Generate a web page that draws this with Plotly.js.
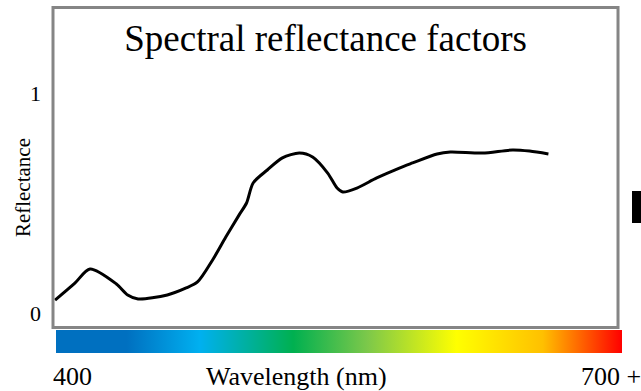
<!DOCTYPE html>
<html>
<head>
<meta charset="utf-8">
<script src="https://cdn.plot.ly/plotly-3.0.1.min.js"></script>
<style>html,body{margin:0;padding:0;background:#fff;}#chart{width:641px;height:391px;}</style>
</head>
<body>
<div id="chart"></div>
<script>
// Data
const wavelengths = [399.5, 410, 418, 432, 438, 443.5, 459, 469, 475, 483, 490, 497, 501, 504.5, 512, 520, 529, 536, 544, 549, 552, 559.5, 570, 582, 589, 602, 609, 626, 642, 651, 661];
const reflectance = [0.059, 0.136, 0.200, 0.132, 0.082, 0.064, 0.082, 0.114, 0.141, 0.241, 0.345, 0.445, 0.500, 0.591, 0.650, 0.705, 0.727, 0.709, 0.636, 0.568, 0.550, 0.568, 0.614, 0.659, 0.682, 0.723, 0.732, 0.727, 0.741, 0.736, 0.723];
const yTickVals = [0, 1];
const yTickText = ['0', '1'];
const bandStart = 400, bandEnd = 700;
const specPositions = [0, 0.125, 0.254, 0.419, 0.55, 0.708, 0.86, 1];
const specColors = ['#0070C0', '#0070C0', '#00B0F0', '#00B050', '#7CC84A', '#FFFF00', '#FFC000', '#FF0000'];

const serif = 'Liberation Serif, Times New Roman, serif';
const spectrumScale = specPositions.map((p, i) => [p, specColors[i]]);

const traces = [
  {
    x: [bandStart, bandEnd, bandEnd, bandStart, bandStart],
    y: [0, 0, 1, 1, 0],
    xaxis: 'x', yaxis: 'y2',
    mode: 'lines', line: {width: 0},
    fill: 'toself',
    fillgradient: {type: 'horizontal', colorscale: spectrumScale},
    hoverinfo: 'skip', showlegend: false
  },
  {
    x: wavelengths, y: reflectance,
    xaxis: 'x', yaxis: 'y',
    mode: 'lines',
    line: {color: '#000', width: 3, shape: 'spline', smoothing: 0.8},
    showlegend: false
  }
];

const layout = {
  width: 641, height: 391,
  margin: {l: 53, r: 19, t: 8, b: 38, pad: 0},
  paper_bgcolor: '#fff', plot_bgcolor: 'rgba(0,0,0,0)',
  font: {family: serif, color: '#000', size: 18},
  showlegend: false,
  title: {
    text: 'Spectral reflectance factors',
    font: {family: serif, size: 37, color: '#000'},
    x: 0.508, xanchor: 'center', xref: 'container',
    y: 0.902, yanchor: 'middle', yref: 'container'
  },
  xaxis: {
    range: [398.41, 700], domain: [0, 1],
    showgrid: false, zeroline: false, showline: false, showticklabels: false, ticks: ''
  },
  yaxis: {
    domain: [0.0739, 1], range: [-0.0659, 1.3864],
    showgrid: false, zeroline: false, showline: false, ticks: '',
    tickvals: yTickVals, ticktext: yTickText,
    tickfont: {family: serif, size: 22, color: '#000'},
    ticklabelstandoff: 11
  },
  yaxis2: {
    domain: [0, 0.0667], range: [0, 1], anchor: 'x',
    showgrid: false, zeroline: false, showline: false, showticklabels: false, ticks: ''
  },
  shapes: [
    {type: 'rect', xref: 'paper', yref: 'paper', x0: 0, x1: 0.993, y0: 0.0739, y1: 1.0014,
     line: {color: '#858585', width: 3}, fillcolor: 'rgba(0,0,0,0)', layer: 'above'},
    {type: 'rect', xref: 'paper', yref: 'paper', x0: 1.0176, x1: 1.05, y0: 0.3768, y1: 0.4696,
     line: {width: 0}, fillcolor: '#000'}
  ],
  annotations: [
    {text: 'Reflectance', textangle: -90, xref: 'paper', yref: 'paper', x: -0.0527, y: 0.478,
     xanchor: 'center', yanchor: 'middle', showarrow: false, font: {family: serif, size: 21, color: '#000'}},
    {text: 'Wavelength (nm)', xref: 'paper', yref: 'paper', x: 0.4288, y: -0.0678,
     xanchor: 'center', yanchor: 'middle', showarrow: false, font: {family: serif, size: 26, color: '#000'}},
    {text: '400', xref: 'paper', yref: 'paper', x: 0.0334, y: -0.0678,
     xanchor: 'center', yanchor: 'middle', showarrow: false, font: {family: serif, size: 26, color: '#000'}},
    {text: '700 +', xref: 'paper', yref: 'paper', x: 0.9807, y: -0.0678,
     xanchor: 'center', yanchor: 'middle', showarrow: false, font: {family: serif, size: 26, color: '#000'}}
  ]
};

Plotly.newPlot('chart', traces, layout, {displayModeBar: false, staticPlot: true});
</script>
</body>
</html>
